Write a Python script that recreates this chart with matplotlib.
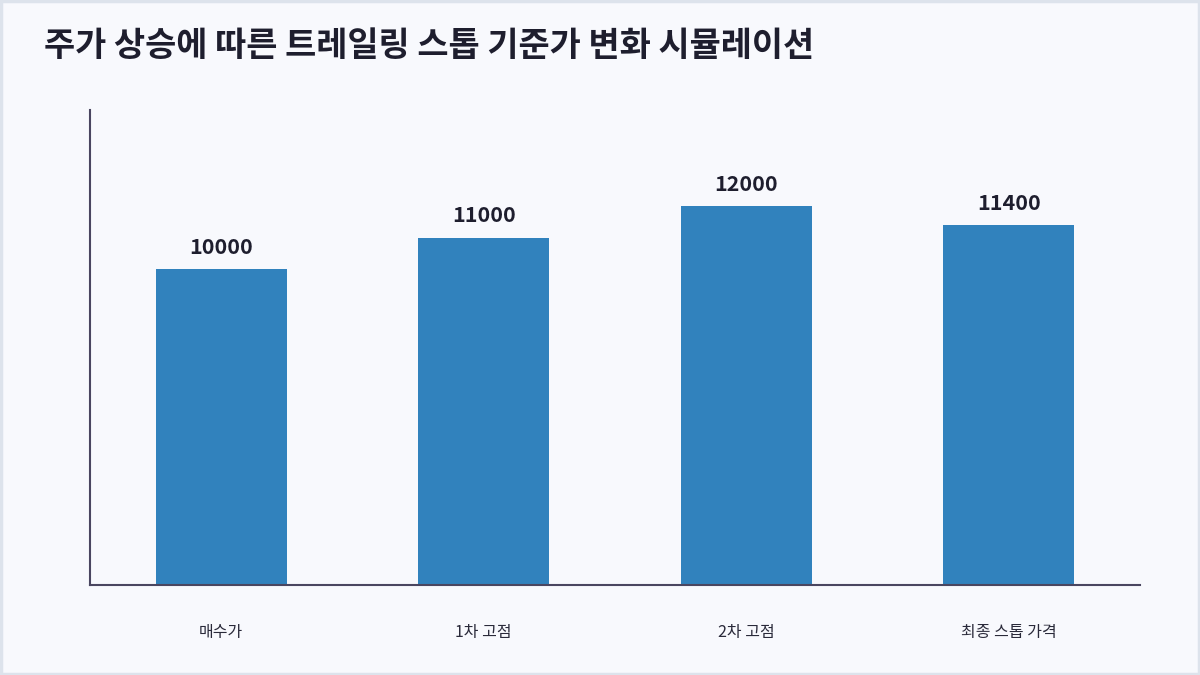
import matplotlib.pyplot as plt
from matplotlib.patches import Rectangle

plt.rcParams['font.family'] = ['Noto Sans CJK KR', 'DejaVu Sans']

categories = ['매수가', '1차 고점', '2차 고점', '최종 스톱 가격']
prices = [10000, 11000, 12000, 11400]
title = '주가 상승에 따른 트레일링 스톱 기준가 변화 시뮬레이션'

bg = '#f8f9fd'
fig = plt.figure(figsize=(12, 6.75), dpi=100, facecolor=bg)
fig.patches.append(Rectangle((0.001, 0.002), 0.998, 0.996, transform=fig.transFigure,
                             fill=False, edgecolor='#dde3ec', linewidth=2.5))
ax = fig.add_axes([0.075, 0.1333, 0.875, 0.704])
ax.set_facecolor(bg)

x = range(len(categories))
ax.bar(x, prices, width=0.5, color='#3182bd', zorder=2)
for i, v in zip(x, prices):
    ax.annotate(str(v), (i, v), xytext=(0, 8.5), textcoords='offset points',
                ha='center', va='bottom', fontsize=15.5, fontweight='bold', color='#1e1e2e')

ax.set_xlim(-0.5, len(categories) - 0.5)
ax.set_ylim(0, max(prices) * 1.255)
ax.set_xticks(list(x))
ax.set_xticklabels(categories, fontsize=11.5, fontweight='medium', color='#2a2a3a')
ax.tick_params(axis='x', length=0, pad=28)
ax.set_yticks([])
for s in ['top', 'right']:
    ax.spines[s].set_visible(False)
for s in ['left', 'bottom']:
    ax.spines[s].set_color('#4a4660')
    ax.spines[s].set_linewidth(1.5)

fig.text(0.037, 0.932, title, fontsize=24.4, fontweight='bold', color='#1e1e2e',
         ha='left', va='center')

fig.savefig('out.png', dpi=100, facecolor=bg)
